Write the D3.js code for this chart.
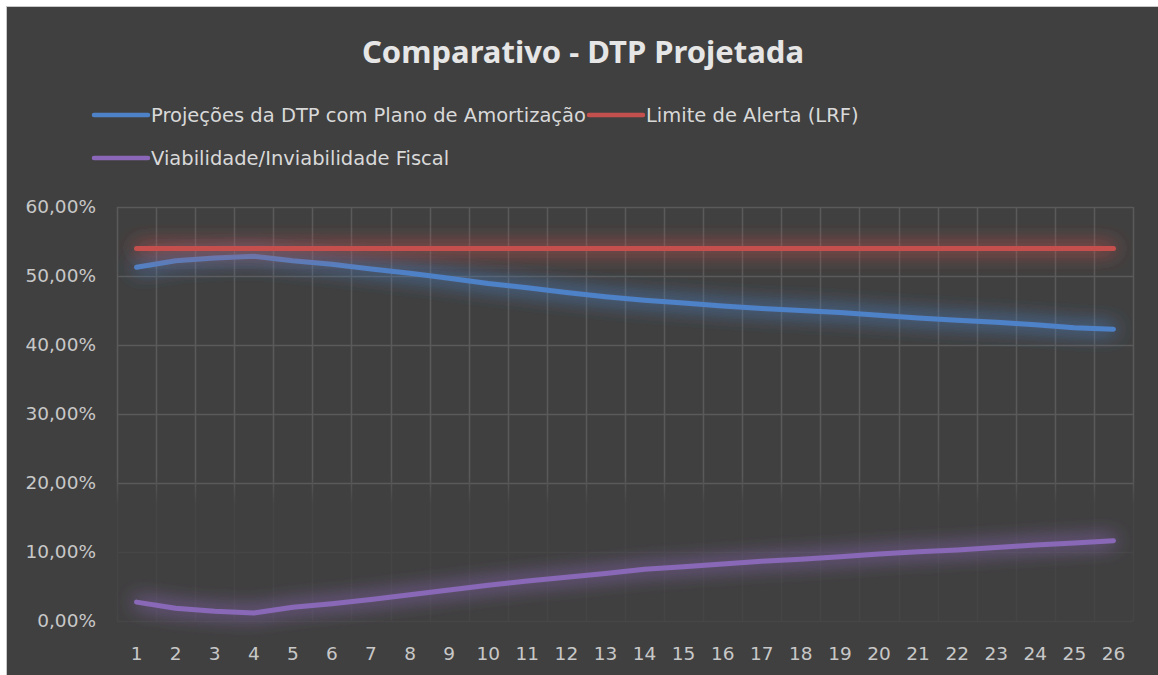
<!DOCTYPE html>
<html>
<head>
<meta charset="utf-8">
<script src="https://cdn.jsdelivr.net/npm/d3@7"></script>
<style>
  html, body { margin: 0; padding: 0; background: #ffffff; }
  svg { display: block; }
</style>
</head>
<body>
<div id="app"></div>
<script>
(function (d3) {
  'use strict'

  // chart data
  const categories = ['1','2','3','4','5','6','7','8','9','10','11','12','13','14','15','16','17','18','19','20','21','22','23','24','25','26']
  const projecoes = [51.26, 52.22, 52.6, 52.85, 52.2, 51.7, 51.0, 50.4, 49.66, 48.9, 48.3, 47.6, 47.0, 46.5, 46.1, 45.65, 45.3, 45.0, 44.7, 44.3, 43.9, 43.6, 43.3, 42.95, 42.5, 42.3]
  const limite = [54, 54, 54, 54, 54, 54, 54, 54, 54, 54, 54, 54, 54, 54, 54, 54, 54, 54, 54, 54, 54, 54, 54, 54, 54, 54]
  const viabilidade = [2.74, 1.84, 1.4, 1.15, 1.98, 2.5, 3.1, 3.8, 4.5, 5.17, 5.8, 6.35, 6.9, 7.49, 7.87, 8.25, 8.65, 8.94, 9.3, 9.7, 10.05, 10.3, 10.65, 11.0, 11.3, 11.64]
  const yTicks = [0, 10, 20, 30, 40, 50, 60]
  const seriesNames = ['Projeções da DTP com Plano de Amortização', 'Limite de Alerta (LRF)', 'Viabilidade/Inviabilidade Fiscal']

  const W = 1158, H = 675
  const margin = { top: 207, right: 25, bottom: 54, left: 117 }
  const font = '"DejaVu Sans", "Noto Sans", sans-serif'

  const series = [
    { name: seriesNames[0], values: projecoes, color: '#4d82c8' },
    { name: seriesNames[1], values: limite, color: '#c4504d' },
    { name: seriesNames[2], values: viabilidade, color: '#8a67b8' }
  ]

  const svg = d3.select('#app').append('svg')
    .attr('width', W)
    .attr('height', H)

  const defs = svg.append('defs')

  // soft glow round each line (user space so the flat red line still renders)
  const glow = defs.append('filter')
    .attr('id', 'glow')
    .attr('filterUnits', 'userSpaceOnUse')
    .attr('x', 0).attr('y', 0)
    .attr('width', W).attr('height', H)
  glow.append('feGaussianBlur')
    .attr('in', 'SourceGraphic')
    .attr('stdDeviation', 10)
    .attr('result', 'blur')
  glow.append('feComponentTransfer')
    .attr('in', 'blur')
    .attr('result', 'soft')
    .append('feFuncA').attr('type', 'linear').attr('slope', 1.7)
  const merge = glow.append('feMerge')
  merge.append('feMergeNode').attr('in', 'soft')
  merge.append('feMergeNode').attr('in', 'SourceGraphic')

  // chart area background
  svg.append('rect')
    .attr('x', 6.5).attr('y', 6.5)
    .attr('width', W - 6).attr('height', H - 6)
    .attr('fill', '#404040')
    .attr('stroke', '#c8c8c8')

  const x = d3.scaleBand()
    .domain(categories)
    .range([margin.left, W - margin.right])

  const y = d3.scaleLinear()
    .domain([0, 60])
    .range([H - margin.bottom, margin.top])

  // grid fades out in the lower part, like the reference
  const grad = defs.append('linearGradient')
    .attr('id', 'gridFade')
    .attr('gradientUnits', 'userSpaceOnUse')
    .attr('x1', 0).attr('x2', 0)
    .attr('y1', y(60)).attr('y2', y(0))
  grad.append('stop').attr('offset', (y(21) - y(60)) / (y(0) - y(60))).attr('stop-color', '#5a5a5a')
  grad.append('stop').attr('offset', (y(17) - y(60)) / (y(0) - y(60))).attr('stop-color', '#454545')
  grad.append('stop').attr('offset', 1).attr('stop-color', '#454545')

  const grid = svg.append('g').attr('class', 'grid')

  grid.selectAll('line.h')
    .data(yTicks)
    .enter()
    .append('line')
    .attr('class', 'h')
    .attr('x1', margin.left)
    .attr('x2', W - margin.right)
    .attr('y1', function (d) { return Math.round(y(d)) + 0.5 })
    .attr('y2', function (d) { return Math.round(y(d)) + 0.5 })
    .attr('stroke', function (d) { return d >= 20 ? '#5a5a5a' : '#464646' })
    .attr('stroke-width', 1.5)

  const edges = categories.map(function (c) { return x(c) }).concat([x.range()[1]])
  grid.selectAll('line.v')
    .data(edges)
    .enter()
    .append('line')
    .attr('class', 'v')
    .attr('x1', function (d) { return Math.round(d) + 0.5 })
    .attr('x2', function (d) { return Math.round(d) + 0.5 })
    .attr('y1', y(60))
    .attr('y2', y(0))
    .attr('stroke', 'url(#gridFade)')
    .attr('stroke-width', 1.5)

  // axes
  const yAxis = d3.axisLeft(y)
    .tickValues(yTicks)
    .tickSize(0)
    .tickPadding(21)
    .tickFormat(function (d) { return d.toFixed(2).replace('.', ',') + '%' })

  const yg = svg.append('g')
    .attr('transform', 'translate(' + margin.left + ',0)')
    .call(yAxis)
  yg.select('.domain').remove()
  yg.selectAll('text')
    .style('font-family', font)
    .style('font-size', '18.5px')
    .attr('fill', '#c8c8c8')

  const xAxis = d3.axisBottom(x)
    .tickSize(0)
    .tickPadding(26)

  const xg = svg.append('g')
    .attr('transform', 'translate(0,' + y(0) + ')')
    .call(xAxis)
  xg.select('.domain').remove()
  xg.selectAll('text')
    .style('font-family', font)
    .style('font-size', '18.5px')
    .attr('fill', '#c8c8c8')

  // lines
  const line = d3.line()
    .x(function (d, i) { return x(categories[i]) + x.bandwidth() / 2 })
    .y(function (d) { return y(d) })

  svg.append('g')
    .selectAll('path')
    .data(series)
    .enter()
    .append('path')
    .attr('d', function (d) { return line(d.values) })
    .attr('fill', 'none')
    .attr('stroke', function (d) { return d.color })
    .attr('stroke-width', 5)
    .attr('stroke-linecap', 'round')
    .attr('stroke-linejoin', 'round')
    .attr('filter', 'url(#glow)')

  // title
  svg.append('text')
    .attr('x', 583)
    .attr('y', 63)
    .attr('text-anchor', 'middle')
    .style('font-family', '"Noto Sans", sans-serif')
    .style('font-weight', 'bold')
    .style('font-size', '31px')
    .attr('fill', '#e6e6e6')
    .text('Comparativo - DTP Projetada')

  // legend
  const legendPos = [
    { x: 92, y: 115 },
    { x: 587, y: 115 },
    { x: 92, y: 158 }
  ]
  const legend = svg.append('g')
    .selectAll('g')
    .data(series)
    .enter()
    .append('g')
    .attr('transform', function (d, i) { return 'translate(' + legendPos[i].x + ',' + legendPos[i].y + ')' })

  legend.append('line')
    .attr('x1', 2).attr('x2', 56)
    .attr('y1', 0).attr('y2', 0)
    .attr('stroke', function (d) { return d.color })
    .attr('stroke-width', 4.5)
    .attr('stroke-linecap', 'round')

  legend.append('text')
    .attr('x', 59)
    .attr('y', 0)
    .attr('dy', '0.35em')
    .style('font-family', font)
    .style('font-size', '19.5px')
    .attr('fill', '#d9d9d9')
    .text(function (d) { return d.name })

})(d3)
</script>
</body>
</html>
